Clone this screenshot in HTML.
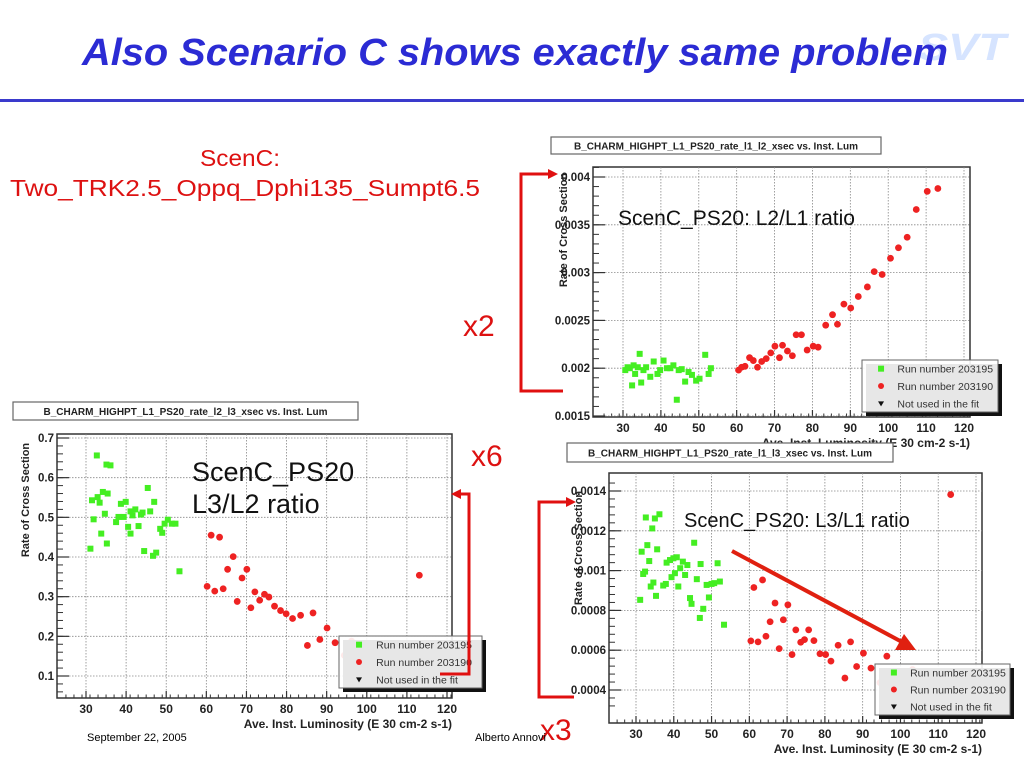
<!DOCTYPE html>
<html><head><meta charset="utf-8"><style>
html,body{margin:0;padding:0;background:#fff;width:1024px;height:768px;overflow:hidden}
svg{display:block}
</style></head><body>
<svg id="s" width="1024" height="768" xmlns="http://www.w3.org/2000/svg" font-family="Liberation Sans, sans-serif">
<text x="918" y="60" font-size="38" font-weight="bold" font-style="italic" fill="#d6e4ff" textLength="88" lengthAdjust="spacingAndGlyphs">SVT</text>
<text x="82" y="65" font-size="38" font-weight="bold" font-style="italic" fill="#2b2bd4" textLength="866" lengthAdjust="spacingAndGlyphs">Also Scenario C shows exactly same problem</text>
<rect x="0" y="99" width="1024" height="3" fill="#3a3acc"/>
<text x="200" y="166" font-size="23" fill="#dd1111" textLength="80" lengthAdjust="spacingAndGlyphs">ScenC:</text>
<text x="10" y="196" font-size="23" fill="#dd1111" textLength="470" lengthAdjust="spacingAndGlyphs">Two_TRK2.5_Oppq_Dphi135_Sumpt6.5</text>
<text x="463" y="336" font-size="30" fill="#dd1111">x2</text>
<text x="471" y="466" font-size="30" fill="#dd1111">x6</text>
<text x="540" y="740" font-size="30" fill="#dd1111">x3</text>
<text x="87" y="741" font-size="11" fill="#000">September 22, 2005</text>
<text x="475" y="741" font-size="11" fill="#000">Alberto Annovi</text>
<g id="charts"></g>
<g stroke="#e01010" stroke-width="3" fill="none">
<polyline points="555,174 521,174 521,391 563,391"/></g>
<polygon points="558,174 548,169 548,179" fill="#e01010"/>
<g stroke="#e01010" stroke-width="3" fill="none">
<polyline points="455,494 469,494 469,674 440,674"/></g>
<polygon points="451,494 461,489 461,499" fill="#e01010"/>
<g stroke="#e01010" stroke-width="3" fill="none">
<polyline points="572,502 539,502 539,697 574,697"/></g>
<polygon points="576,502 566,497 566,507" fill="#e01010"/>
</svg>
<script>
const c1GreenX=[30.6,31.2,31.8,32.4,32.8,33.2,33.9,34.4,34.8,35.4,36.1,37.2,38.1,39.1,39.8,40.7,41.6,42.5,43.3,44.2,44.7,45.5,46.4,47.3,48.2,49.3,50.2,51.7,52.6,53.2];
const c1GreenY=[0.00198,0.00201,0.0020,0.00182,0.00203,0.00194,0.00201,0.00215,0.00185,0.00198,0.00201,0.00191,0.00207,0.00194,0.00198,0.00208,0.0020,0.0020,0.00203,0.00167,0.00198,0.00199,0.00186,0.00196,0.00193,0.00187,0.00189,0.00214,0.00194,0.0020];
const c1RedX=[60.5,61.3,62.2,63.4,64.4,65.5,66.6,67.8,69.0,70.1,71.3,72.1,73.4,74.7,75.7,77.1,78.6,80.2,81.5,83.5,85.3,86.6,88.3,90.1,92.1,94.5,96.3,98.4,100.6,102.7,105,107.4,110.3,113.1];
const c1RedY=[0.00198,0.00201,0.00202,0.00211,0.00208,0.00201,0.00207,0.0021,0.00216,0.00223,0.00211,0.00224,0.00218,0.00213,0.00235,0.00235,0.00219,0.00223,0.00222,0.00245,0.00256,0.00246,0.00267,0.00263,0.00275,0.00285,0.00301,0.00298,0.00315,0.00326,0.00337,0.00366,0.00385,0.00388];
const c1YTicks=["0.0015","0.002","0.0025","0.003","0.0035","0.004"];

const c2GreenX=[31.1,31.5,31.9,32.7,32.9,33.4,34.2,33.8,34.7,35.1,35.4,36.1,35.2,37.5,38.1,38.7,39.4,39.9,40.5,41.1,41.1,41.6,42.3,43.1,43.7,44.1,44.5,45.4,46,46.7,47,47.5,48.5,49,49.6,50.4,51.4,52.3,53.3];
const c2GreenY=[0.421,0.543,0.495,0.656,0.551,0.537,0.564,0.459,0.509,0.633,0.56,0.631,0.434,0.488,0.501,0.534,0.501,0.539,0.476,0.459,0.515,0.505,0.52,0.478,0.507,0.512,0.415,0.574,0.515,0.403,0.539,0.411,0.471,0.461,0.484,0.494,0.484,0.484,0.364];
const c2RedX=[60.2,61.2,62.1,63.3,64.2,65.3,66.7,67.7,68.9,70.1,71.1,72.1,73.3,74.5,75.6,77,78.5,79.9,81.5,83.5,85.2,86.6,88.3,90.1,92.1,94.4,96.2,97.4,98.2,100.5,102.6,104.9,107.3,110.2,113.1];
const c2RedY=[0.326,0.455,0.314,0.45,0.32,0.369,0.401,0.288,0.347,0.369,0.272,0.312,0.291,0.306,0.299,0.276,0.265,0.257,0.245,0.253,0.177,0.259,0.192,0.221,0.184,0.152,0.188,0.135,0.159,0.12,0.155,0.099,0.117,0.124,0.354];
const c2YTicks=["0.1","0.2","0.3","0.4","0.5","0.6","0.7"];

const c3GreenX=[31.1,31.5,31.9,32.4,32.6,33,33.5,33.9,34.3,34.6,35,35.3,35.6,36.2,37.2,37.9,38.1,39,39.4,39.9,40.3,40.8,41.2,41.7,42.4,43,43.6,44.3,44.7,45.4,46.1,46.9,47.1,47.8,48.7,49.3,50,50.7,51.6,52.2,53.3];
const c3GreenY=[0.000853,0.001095,0.000983,0.000995,0.001267,0.001128,0.001048,0.00092,0.001212,0.00094,0.001262,0.000873,0.001107,0.001283,0.000925,0.000933,0.00104,0.001053,0.000967,0.001062,0.000987,0.001067,0.00092,0.001012,0.001045,0.000978,0.001028,0.000862,0.000833,0.00114,0.000957,0.000762,0.001033,0.000808,0.000928,0.000865,0.000933,0.000937,0.001037,0.000945,0.000728];
const c3RedX=[60.4,61.2,62.3,63.5,64.4,65.5,66.8,67.9,69,70.2,71.3,72.3,73.6,74.6,75.7,77.1,78.7,80.2,81.6,83.5,85.3,86.8,88.4,90.2,92.2,94.6,96.4,98.4,100.8,103.2,105,107.4,110.5,113.3];
const c3RedY=[0.000647,0.000915,0.000642,0.000953,0.00067,0.000743,0.000837,0.000608,0.000753,0.000828,0.000578,0.000702,0.00064,0.000653,0.000702,0.000648,0.000582,0.000578,0.000545,0.000625,0.00046,0.000642,0.000518,0.000585,0.00051,0.000437,0.00057,0.000478,0.000383,0.000503,0.000342,0.000437,0.000482,0.001382];
const c3YTicks=["0.0004","0.0006","0.0008","0.001","0.0012","0.0014"];

const xTicks=[30,40,50,60,70,80,90,100,110,120];

const NS="http://www.w3.org/2000/svg";
const root=document.getElementById('charts');
function mk(tag,attrs,parent){const e=document.createElementNS(NS,tag);for(const k in attrs)e.setAttribute(k,attrs[k]);(parent||root).appendChild(e);return e;}

function chart(cfg){
  const g=mk('g',{});
  
  
  const X=v=>cfg.x30+(v-30)*(cfg.x120-cfg.x30)/90;
  const Y=v=>cfg.yTop+(cfg.yMax-v)*(cfg.yBot-cfg.yTop)/(cfg.yMax-cfg.yMin);
  const tb=mk('rect',{x:cfg.tb[0],y:cfg.tb[1],width:cfg.tb[2],height:cfg.tb[3],fill:'#fff',stroke:'#666','stroke-width':1.2},g);
  
  
  const tt=mk('text',{x:cfg.tb[0]+cfg.tb[2]/2,y:cfg.tb[1]+cfg.tb[3]/2+4,'font-size':10,'font-weight':'bold','text-anchor':'middle',fill:'#222'},g);
  tt.textContent=cfg.title;
  
  
  const fr=mk('rect',{x:cfg.fx0,y:cfg.fy0,width:cfg.fx1-cfg.fx0,height:cfg.fy1-cfg.fy0,fill:'#fff',stroke:'#333','stroke-width':1.5},g);
  
  
  xTicks.forEach(t=>{
    const x=X(t);
    const l=mk('line',{x1:x,x2:x,y1:cfg.fy0,y2:cfg.fy1,stroke:'#888','stroke-width':0.8,'stroke-dasharray':'1.5,1.5'},g);
    
    
    mk('line',{x1:x,x2:x,y1:cfg.fy1,y2:cfg.fy1-7,stroke:'#333','stroke-width':1.2},g);
    const tx=mk('text',{x:x,y:cfg.fy1+15,'font-size':12,'font-weight':'bold','text-anchor':'middle',fill:'#222'},g);
    tx.textContent=t;
    
    
  });
  for(let v=25;v<=122;v+=2){const x=X(v);if(x<cfg.fx0||x>cfg.fx1)continue;mk('line',{x1:x,x2:x,y1:cfg.fy1,y2:cfg.fy1-3.5,stroke:'#333','stroke-width':1},g);}
  cfg.yTicks.forEach(s=>{
    const y=Y(parseFloat(s));
    const l=mk('line',{x1:cfg.fx0,x2:cfg.fx1,y1:y,y2:y,stroke:'#888','stroke-width':0.8,'stroke-dasharray':'1.5,1.5'},g);
    
    
    mk('line',{x1:cfg.fx0,x2:cfg.fx0+12,y1:y,y2:y,stroke:'#333','stroke-width':1.2},g);
    const ty=mk('text',{x:cfg.fx0-3,y:y+4,'font-size':11.5,'font-weight':'bold','text-anchor':'end',fill:'#222'},g);
    ty.textContent=s;
    
    
  });
  const step=(cfg.yMax-cfg.yMin)/(cfg.yTicks.length-1)/5;
  for(let v=cfg.yMin-2*step;v<=cfg.yMax+2*step;v+=step){const y=Y(v);if(y<cfg.fy0||y>cfg.fy1)continue;mk('line',{x1:cfg.fx0,x2:cfg.fx0+6,y1:y,y2:y,stroke:'#333','stroke-width':1},g);}
  const xt=mk('text',{x:cfg.fx1,y:cfg.fy1+30,'font-size':12,'font-weight':'bold','text-anchor':'end',fill:'#222'},g);
  xt.textContent='Ave. Inst. Luminosity (E 30 cm-2 s-1)';
  
  
  const yt=mk('text',{x:0,y:0,'font-size':11,'font-weight':'bold','text-anchor':'middle',fill:'#222',transform:`translate(${cfg.ytx},${cfg.yty}) rotate(-90)`},g);
  yt.textContent='Rate of Cross Section';
  
  
  cfg.ann.forEach(a=>{const t=mk('text',{x:a[0],y:a[1],'font-size':a[2],fill:'#111'},g);t.textContent=a[3];
    
    });
  cfg.gx.forEach((v,i)=>{const p=mk('rect',{x:X(v)-3,y:Y(cfg.gy[i])-3,width:6,height:6,fill:'#44ee22'},g);
    
    });
  cfg.rx.forEach((v,i)=>{const p=mk('circle',{cx:X(v),cy:Y(cfg.ry[i]),r:3.4,fill:'#ee2222'},g);
    
    });
  const L=cfg.leg;
  mk('rect',{x:L[0]+4,y:L[1]+4,width:L[2],height:L[3],fill:'#111'},g);
  const lb=mk('rect',{x:L[0],y:L[1],width:L[2],height:L[3],fill:'#fff','fill-opacity':0.9,stroke:'#666'},g);
  
  
  const rows=[['Run number 203195','sq'],['Run number 203190','ci'],['Not used in the fit','tr']];
  rows.forEach((r,i)=>{
    const y=L[1]+L[3]*(i+0.5)/3;const mx=L[0]+L[2]*0.14;
    if(r[1]=='sq')mk('rect',{x:mx-3,y:y-3,width:6,height:6,fill:'#44ee22'},g);
    else if(r[1]=='ci')mk('circle',{cx:mx,cy:y,r:3,fill:'#ee2222'},g);
    else mk('polygon',{points:`${mx-3},${y-2} ${mx+3},${y-2} ${mx},${y+3}`,fill:'#111'},g);
    const t=mk('text',{x:L[0]+L[2]*0.26,y:y+4,'font-size':10.5,fill:'#333'},g);t.textContent=r[0];
    
    
  });
}

chart({name:'chart-l2-l1',title:'B_CHARM_HIGHPT_L1_PS20_rate_l1_l2_xsec vs. Inst. Lum',tb:[551,137,330,17],
  fx0:593,fx1:970,fy0:167,fy1:417,x30:623,x120:964,yTop:177,yBot:416,yMax:0.004,yMin:0.0015,yTicks:c1YTicks,
  ytx:567,yty:230,ann:[[618,225,21,'ScenC_PS20: L2/L1 ratio']],gx:c1GreenX,gy:c1GreenY,rx:c1RedX,ry:c1RedY,leg:[862,360,136,52]});
chart({name:'chart-l3-l2',title:'B_CHARM_HIGHPT_L1_PS20_rate_l2_l3_xsec vs. Inst. Lum',tb:[13,402,345,18],
  fx0:57,fx1:452,fy0:434,fy1:698,x30:86,x120:447,yTop:438,yBot:676,yMax:0.7,yMin:0.1,yTicks:c2YTicks,
  ytx:29,yty:500,ann:[[192,481,27,'ScenC_PS20'],[192,513,27,'L3/L2 ratio']],gx:c2GreenX,gy:c2GreenY,rx:c2RedX,ry:c2RedY,leg:[339,636,143,52]});
chart({name:'chart-l3-l1',title:'B_CHARM_HIGHPT_L1_PS20_rate_l1_l3_xsec vs. Inst. Lum',tb:[567,443,326,19],
  fx0:609,fx1:982,fy0:473,fy1:723,x30:636,x120:976,yTop:491,yBot:690,yMax:0.0014,yMin:0.0004,yTicks:c3YTicks,
  ytx:582,yty:548,ann:[[684,527,20,'ScenC_PS20: L3/L1 ratio']],gx:c3GreenX,gy:c3GreenY,rx:c3RedX,ry:c3RedY,leg:[875,664,135,51]});

const ar=mk('line',{x1:732,y1:551,x2:902,y2:642,stroke:'#e02010','stroke-width':4});


const ah=mk('polygon',{points:'916,650 895,650 904,634',fill:'#e02010'});


</script>
</body></html>
